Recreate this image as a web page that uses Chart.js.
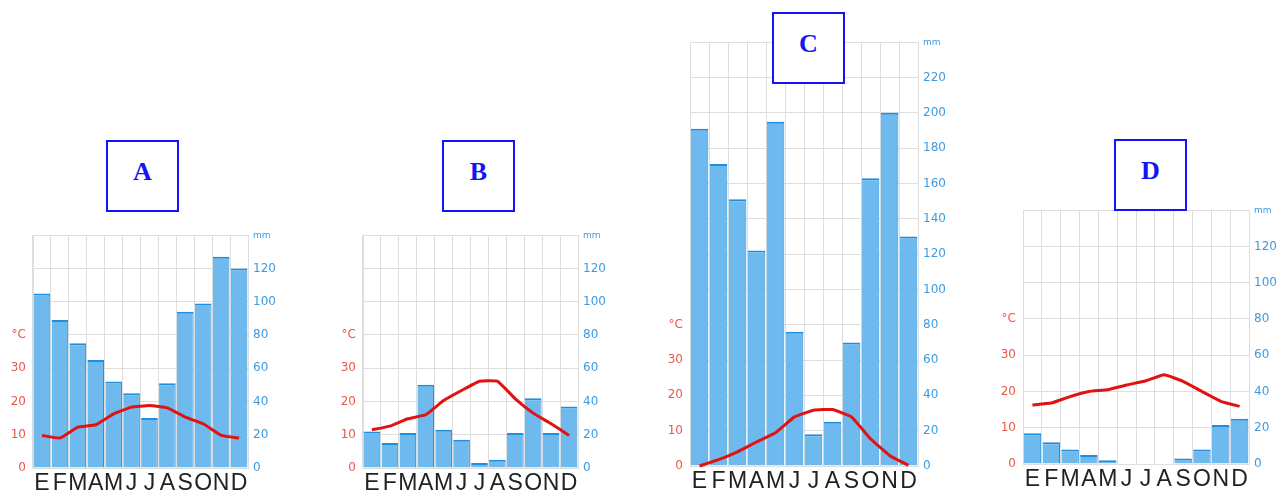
<!DOCTYPE html>
<html>
<head>
<meta charset="utf-8">
<script src="https://cdn.jsdelivr.net/npm/chart.js@4.4.1/dist/chart.umd.min.js"></script>
<style>
  body { margin: 0; width: 1278px; height: 500px; position: relative; overflow: hidden; background: #fff; }
  .wrap { position: absolute; }
  .tag {
    position: absolute; box-sizing: border-box; width: 73px; height: 72px;
    border: 2px solid #1414f5; background: #fff; color: #1414f5;
    font: bold 26px "Liberation Serif", "Times New Roman", serif;
    display: flex; align-items: center; justify-content: center; padding-bottom: 8px;
  }
</style>
</head>
<body>
<div class="wrap" id="wA"><canvas id="cA"></canvas></div>
<div class="wrap" id="wB"><canvas id="cB"></canvas></div>
<div class="wrap" id="wC"><canvas id="cC"></canvas></div>
<div class="wrap" id="wD"><canvas id="cD"></canvas></div>
<div class="tag" style="left:106px;top:140px">A</div>
<div class="tag" style="left:442px;top:140px">B</div>
<div class="tag" style="left:772px;top:12px">C</div>
<div class="tag" style="left:1114px;top:139px">D</div>
<script>
// meses (E = enero)
const months = ['E', 'F', 'M', 'A', 'M', 'J', 'J', 'A', 'S', 'O', 'N', 'D'];

// precipitaciones (mm) y temperaturas (°C) de cada climograma
const precipA = [105, 89, 75, 65, 52, 45, 30, 51, 94, 99, 127, 120];
const tempA = [9.8, 9, 12.3, 13, 16.3, 18.3, 18.8, 18.1, 15.3, 13.3, 9.8, 9];

const precipB = [22, 15, 21, 50, 23, 17, 3, 5, 21, 42, 21, 37];
const tempB = [11.5, 12.6, 14.8, 16, 20.3, 23.3, 26.1, 26.1, 20.8, 16.5, 13.3, 9.8];

const precipC = [191, 171, 151, 122, 195, 76, 18, 25, 70, 163, 200, 130];
const tempC = [0, 1.8, 4, 6.8, 9.4, 13.9, 15.8, 16, 13.9, 7.7, 3, 0.2];

const precipD = [17, 12, 8, 5, 2, 0, 0, 0, 3, 8, 21.5, 25];
const tempD = [16.3, 16.8, 18.6, 20, 20.5, 21.8, 22.9, 24.6, 22.8, 20, 17.3, 15.9];

// tope del eje de mm
const mmMaxA = 140, mmMaxB = 140, mmMaxC = 240, mmMaxD = 140;

const gridColor = '#dedede';

function climograma(id, area, precip, temp, mmMax) {
  // area = caja del gráfico en la página: izquierda, derecha, arriba, cero
  const side = 34, topPad = 10;
  const left = area.L - side;
  const top = area.T - topPad - 4;
  const w = Math.round(area.R - area.L + side * 2);
  const h = Math.round(500 - top);

  const wrap = document.getElementById('w' + id);
  wrap.style.left = left + 'px';
  wrap.style.top = top + 'px';
  const canvas = document.getElementById('c' + id);
  canvas.width = w; canvas.height = h;
  canvas.style.width = w + 'px'; canvas.style.height = h + 'px';

  new Chart(canvas, {
    data: {
      labels: months,
      datasets: [
        {
          type: 'line',
          data: temp,
          yAxisID: 'temp',
          borderColor: '#e01212',
          borderWidth: 3,
          pointRadius: 0,
          tension: 0.1,
          clip: false,
          order: 0
        },
        {
          type: 'bar',
          data: precip,
          yAxisID: 'mm',
          backgroundColor: 'rgb(110,186,238)',
          borderColor: '#1f8ee0',
          borderWidth: ctx => ctx.raw > 0 ? { top: 2, right: 1, left: 0, bottom: 0 } : 0,
          categoryPercentage: 1,
          barPercentage: 0.93,
          order: 1
        }
      ]
    },
    options: {
      responsive: false,
      animation: false,
      devicePixelRatio: 1,
      layout: { padding: { top: topPad, left: 0, right: 0, bottom: 0 } },
      plugins: { legend: { display: false }, tooltip: { enabled: false } },
      scales: {
        x: {
          grid: { color: gridColor, offset: true, drawTicks: false },
          border: { color: gridColor },
          ticks: {
            color: '#222',
            font: { family: '"Liberation Sans Narrow", "Liberation Sans", Arial', size: 23, lineHeight: 1 },
            padding: 4, maxRotation: 0, autoSkip: false
          },
          afterFit(s) { s.height = 500 - area.B; }
        },
        temp: {
          position: 'left',
          min: 0, max: mmMax / 2,
          grid: { display: false, drawTicks: false },
          border: { color: gridColor },
          ticks: {
            stepSize: 10, color: '#e8584c', padding: 7,
            font: { family: '"DejaVu Sans", sans-serif', size: 12 },
            callback: v => v <= 30 ? v : (v === 40 ? '°C' : '')
          },
          afterFit(s) { s.width = side; }
        },
        mm: {
          position: 'right',
          min: 0, max: mmMax,
          grid: { color: gridColor, drawTicks: false },
          border: { color: gridColor },
          ticks: {
            stepSize: 20, color: '#3d9be0', padding: 5,
            font: ctx => ({ family: '"DejaVu Sans", sans-serif', size: ctx.tick && ctx.tick.value === mmMax ? 9 : 12 }),
            callback: v => v === mmMax ? 'mm' : v
          },
          afterFit(s) { s.width = side; }
        }
      }
    }
  });
}

climograma('A', { L: 33, R: 248, T: 235, B: 468 }, precipA, tempA, mmMaxA);
climograma('B', { L: 363, R: 578, T: 235, B: 468 }, precipB, tempB, mmMaxB);
climograma('C', { L: 690, R: 918, T: 42, B: 466 }, precipC, tempC, mmMaxC);
climograma('D', { L: 1023, R: 1249, T: 210, B: 464 }, precipD, tempD, mmMaxD);
</script>
</body>
</html>
